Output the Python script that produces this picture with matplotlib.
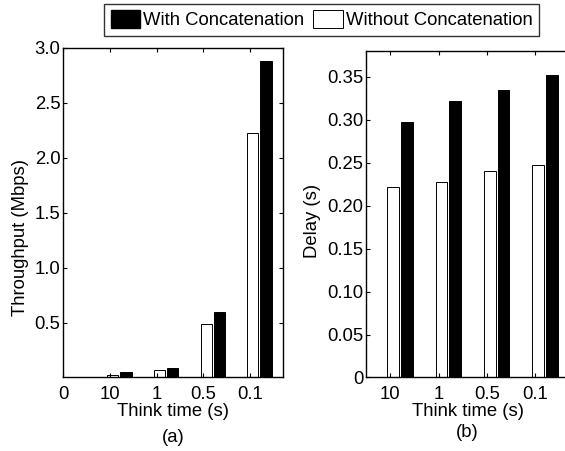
import matplotlib
matplotlib.use("Agg")
import matplotlib.pyplot as plt
import numpy as np
from matplotlib.patches import Patch

plt.rcParams['font.family'] = ['Liberation Sans', 'DejaVu Sans']
FS = 13.3
plt.rcParams['font.size'] = FS

think_labels = ["10", "1", "0.5", "0.1"]
thr_without = [0.027, 0.066, 0.49, 2.23]
thr_with = [0.048, 0.086, 0.60, 2.88]
delay_without = [0.222, 0.228, 0.240, 0.247]
delay_with = [0.297, 0.322, 0.335, 0.352]

pos = np.arange(1, len(think_labels) + 1)
bw = 0.24


def style(ax):
    ax.tick_params(direction='in', top=True, right=True, length=3, width=0.8,
                   labelsize=FS)
    ax.tick_params(axis='y', pad=2)
    ax.tick_params(axis='x', pad=6)
    for s in ax.spines.values():
        s.set_linewidth(1.0)
    ax.xaxis.label.set_size(FS)
    ax.yaxis.label.set_size(FS)


fig = plt.figure(figsize=(5.65, 4.51), dpi=100)

# (a) throughput
ax1 = fig.add_axes([0.112, 0.163, 0.3883, 0.7306])
ax1.bar(pos + 0.06, thr_without, bw, color='white', edgecolor='black', linewidth=0.7)
ax1.bar(pos + 0.345, thr_with, bw, color='black', edgecolor='black', linewidth=0.7)
ax1.set_xlim(0, 4.7)
ax1.set_ylim(0, 3.0)
ax1.set_xticks(np.arange(0, 5))
ax1.set_xticklabels(["0"] + think_labels)
ax1.set_yticks([0.5, 1.0, 1.5, 2.0, 2.5, 3.0])
ax1.set_yticklabels(["0.5", "1.0", "1.5", "2.0", "2.5", "3.0"])
ax1.set_ylabel("Throughput (Mbps)")
ax1.yaxis.label.set_verticalalignment('center')
ax1.yaxis.set_label_coords(-0.196, 0.426)
ax1.set_xlabel("Think time (s)", labelpad=0)
style(ax1)
fig.text(0.306, 0.031, "(a)", ha='center', va='center', fontsize=FS)

# (b) delay
ax2 = fig.add_axes([0.6478, 0.163, 0.3593, 0.724])
ax2.bar(pos + 0.06, delay_without, bw, color='white', edgecolor='black', linewidth=0.7)
ax2.bar(pos + 0.345, delay_with, bw, color='black', edgecolor='black', linewidth=0.7)
ax2.set_xlim(0.5, 4.7)
ax2.set_ylim(0, 0.38)
ax2.set_xticks(pos)
ax2.set_xticklabels(think_labels)
yt = [0, 0.05, 0.10, 0.15, 0.20, 0.25, 0.30, 0.35]
ax2.set_yticks(yt)
ax2.set_yticklabels(["0"] + ["%.2f" % v for v in yt[1:]])
ax2.set_ylabel("Delay (s)")
ax2.yaxis.label.set_verticalalignment('center')
ax2.yaxis.set_label_coords(-0.262, 0.48)
ax2.set_xlabel("Think time (s)", labelpad=0)
style(ax2)
fig.text(0.8275, 0.040, "(b)", ha='center', va='center', fontsize=FS)

handles = [Patch(facecolor='black', edgecolor='black'),
           Patch(facecolor='white', edgecolor='black', linewidth=0.7)]
leg = fig.legend(handles, ["With Concatenation", "Without Concatenation"],
                 ncol=2, loc='center', bbox_to_anchor=(0.5695, 0.956),
                 frameon=True, fancybox=False, edgecolor='black',
                 handlelength=1.6, handleheight=1.1, handletextpad=0.18,
                 columnspacing=0.47, borderpad=0.35, borderaxespad=0,
                 fontsize=FS)
leg.get_frame().set_linewidth(1.0)

fig.savefig("out.png", dpi=100)
